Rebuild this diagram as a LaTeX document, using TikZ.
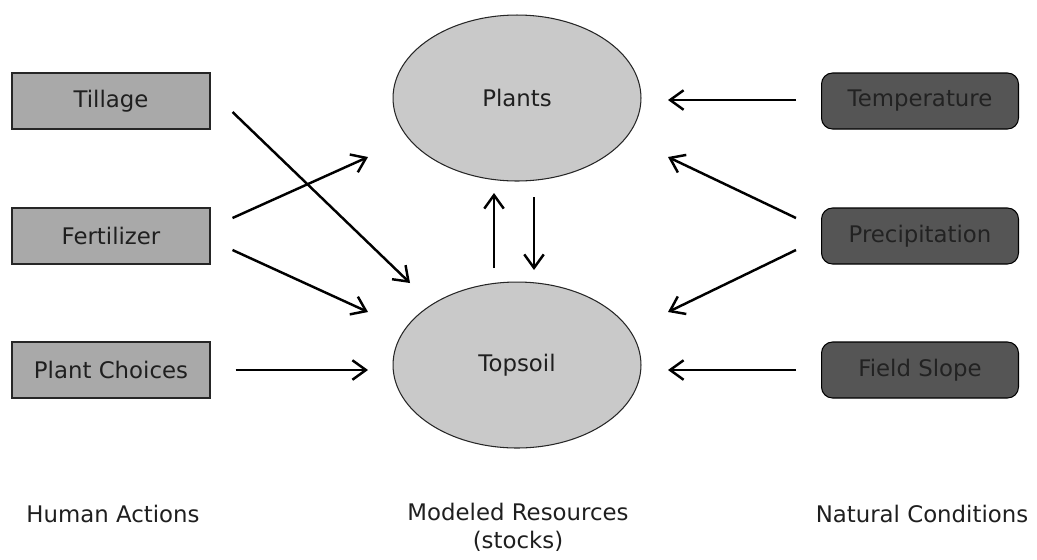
\documentclass[tikz,border=0pt]{standalone}
\usepackage{fontspec}
\setmainfont{DejaVu Sans}
\usetikzlibrary{arrows.meta,shapes.geometric}
\definecolor{actgray}{HTML}{A9A9A9}
\definecolor{resgray}{HTML}{C9C9C9}
\definecolor{natgray}{HTML}{555555}
\definecolor{nattext}{HTML}{222222}
\begin{document}
\begin{tikzpicture}[x=0.02cm,y=-0.02cm,
	font=\fontsize{13}{16}\selectfont,text=black!88,
	action/.style={shape=rectangle,draw=black!85,line width=0.6pt,fill=actgray,minimum width=3.96cm,minimum height=1.12cm,inner sep=0pt},
	stock/.style={shape=ellipse,draw=black!85,line width=0.6pt,fill=resgray,minimum width=4.96cm,minimum height=3.32cm,inner sep=0pt},
	cond/.style={shape=rectangle,rounded corners=0.22cm,draw=black,line width=0.6pt,fill=natgray,text=nattext,minimum width=3.94cm,minimum height=1.12cm,inner sep=0pt},
	flow/.style={line width=1.4pt,-{Straight Barb[length=2.7mm,width=3.9mm,line width=1.4pt]}}]
		\useasboundingbox (0,0) rectangle (1037,559);
		
		\node[action] (A) at (111,101) {Tillage};
		\node[action] (B) at (111,236) {Fertilizer};
		\node[action] (C) at (111,370) {Plant Choices};
		
		\node[stock] (P) at (517,98) {Plants};
		\node[stock] (S) at (517,365) {Topsoil};
		
		\node[cond] (T) at (920,101) {Temperature};
		\node[cond] (R) at (920,236) {Precipitation};
		\node[cond] (L) at (920,370) {Field Slope};
		
		\node (HA) at (113,514) {Human Actions};
		\node[align=center] (MR) at (518,527) {Modeled Resources\\(stocks)};
		\node (NC) at (922,514) {Natural Conditions};
		
		\draw[flow] ([shift={(22,11)}]A.east) -- ([shift={(-107,-82)}]S.center);
		\draw[flow] ([shift={(22,-18)}]B.east) -- ([shift={(-149,59)}]P.center);
		\draw[flow] ([shift={(22,14)}]B.east) -- ([shift={(-149,-53)}]S.center);
		\draw[flow] ([shift={(25,0)}]C.east) -- ([shift={(-149,5)}]S.center);
		
		\draw[flow] ([shift={(-23,-97)}]S.center) -- ([shift={(-23,95)}]P.center);
		\draw[flow] ([shift={(17,99)}]P.center) -- ([shift={(17,-95)}]S.center);
		
		\draw[flow] ([shift={(-25,-1)}]T.west) -- ([shift={(151,2)}]P.center);
		\draw[flow] ([shift={(-25,-18)}]R.west) -- ([shift={(151,59)}]P.center);
		\draw[flow] ([shift={(-25,14)}]R.west) -- ([shift={(151,-53)}]S.center);
		\draw[flow] ([shift={(-25,0)}]L.west) -- ([shift={(151,5)}]S.center);
		
\end{tikzpicture}
\end{document}
